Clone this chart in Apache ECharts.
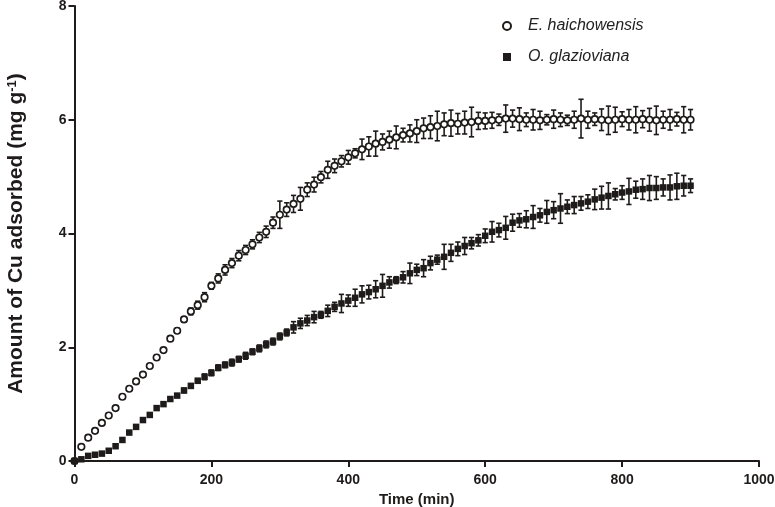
<!DOCTYPE html>
<html>
<head>
<meta charset="utf-8">
<script src="https://cdn.jsdelivr.net/npm/echarts@6/dist/echarts.min.js"></script>
<style>
html,body{margin:0;padding:0;background:#fff;}
#chart{width:775px;height:507px;}
</style>
</head>
<body>
<div id="chart"></div>
<script>
// Time (min)
var timeMin = [0,10,20,30,40,50,60,70,80,90,
  100,110,120,130,140,150,160,170,180,190,
  200,210,220,230,240,250,260,270,280,290,
  300,310,320,330,340,350,360,370,380,390,
  400,410,420,430,440,450,460,470,480,490,
  500,510,520,530,540,550,560,570,580,590,
  600,610,620,630,640,650,660,670,680,690,
  700,710,720,730,740,750,760,770,780,790,
  800,810,820,830,840,850,860,870,880,890,
  900];

// E. haichowensis: mean and error
var haiMean = [0,0.25,0.41,0.53,0.67,0.80,0.93,1.13,1.27,1.40,
  1.52,1.67,1.82,1.95,2.15,2.29,2.49,2.63,2.74,2.88,
  3.08,3.21,3.36,3.48,3.61,3.71,3.81,3.93,4.03,4.19,
  4.33,4.42,4.52,4.61,4.77,4.86,4.99,5.12,5.19,5.27,
  5.34,5.41,5.48,5.53,5.58,5.61,5.65,5.69,5.73,5.76,
  5.80,5.85,5.87,5.89,5.92,5.94,5.93,5.95,5.96,5.98,
  5.98,5.99,6.00,6.02,6.02,6.01,6.00,6.00,5.99,6.00,
  6.01,6.00,5.99,6.00,6.02,6.00,6.01,6.00,5.99,6.00,
  6.01,6.00,6.00,6.01,6.00,5.99,6.00,6.00,6.01,6.00,
  6.00];
var haiErr = [0,0.02,0.02,0.02,0.02,0.02,0.03,0.03,0.03,0.03,
  0.03,0.03,0.03,0.04,0.04,0.04,0.04,0.06,0.07,0.08,
  0.06,0.08,0.09,0.08,0.09,0.08,0.08,0.09,0.10,0.10,
  0.24,0.12,0.15,0.20,0.12,0.13,0.10,0.15,0.12,0.10,
  0.12,0.08,0.18,0.17,0.22,0.14,0.15,0.20,0.12,0.15,
  0.20,0.18,0.20,0.26,0.20,0.23,0.18,0.20,0.26,0.15,
  0.14,0.14,0.10,0.24,0.15,0.20,0.12,0.18,0.16,0.09,
  0.16,0.12,0.09,0.15,0.34,0.15,0.11,0.19,0.25,0.22,
  0.13,0.18,0.23,0.15,0.20,0.25,0.15,0.18,0.12,0.23,
  0.18];

// O. glazioviana: mean and error
var glaMean = [0,0.03,0.09,0.11,0.13,0.18,0.26,0.37,0.50,0.60,
  0.72,0.81,0.93,1.00,1.09,1.15,1.24,1.32,1.41,1.48,
  1.55,1.64,1.69,1.73,1.79,1.85,1.92,1.98,2.05,2.10,
  2.19,2.26,2.35,2.42,2.47,2.53,2.57,2.64,2.71,2.77,
  2.82,2.87,2.93,2.97,3.02,3.08,3.14,3.18,3.23,3.30,
  3.36,3.39,3.48,3.54,3.59,3.66,3.73,3.78,3.83,3.88,
  3.96,4.03,4.06,4.10,4.19,4.23,4.25,4.29,4.32,4.38,
  4.41,4.44,4.47,4.50,4.53,4.56,4.60,4.63,4.66,4.69,
  4.72,4.74,4.77,4.78,4.80,4.80,4.81,4.81,4.83,4.84,
  4.84];
var glaErr = [0,0.01,0.01,0.01,0.01,0.02,0.03,0.03,0.03,0.03,
  0.03,0.03,0.03,0.03,0.03,0.03,0.04,0.04,0.04,0.05,
  0.05,0.05,0.05,0.06,0.05,0.06,0.05,0.06,0.06,0.06,
  0.06,0.06,0.10,0.09,0.09,0.10,0.06,0.10,0.08,0.16,
  0.10,0.15,0.15,0.12,0.15,0.20,0.10,0.06,0.10,0.18,
  0.10,0.15,0.12,0.08,0.22,0.15,0.12,0.15,0.10,0.10,
  0.12,0.18,0.12,0.20,0.15,0.12,0.15,0.20,0.12,0.20,
  0.15,0.26,0.12,0.15,0.12,0.12,0.18,0.20,0.23,0.10,
  0.12,0.23,0.15,0.18,0.22,0.20,0.15,0.22,0.23,0.18,
  0.12];

var seriesNames = ['E. haichowensis', 'O. glazioviana'];
var xTicks = [0, 200, 400, 600, 800, 1000];
var yTicks = [0, 2, 4, 6, 8];

var FONT = '"Liberation Sans", Arial, Helvetica, sans-serif';
var INK = '#1e1b1a';

function pts(m) { return timeMin.map(function (t, i) { return [t, m[i]]; }); }
function errPts(m, e) { return timeMin.map(function (t, i) { return [t, m[i], e[i]]; }); }

function errRender(params, api) {
  var x = api.value(0), y = api.value(1), e = api.value(2);
  var hi = api.coord([x, y + e]);
  var lo = api.coord([x, y - e]);
  var cap = 2.6;
  var st = { stroke: INK, lineWidth: 1.6 };
  return {
    type: 'group',
    children: [
      { type: 'line', shape: { x1: hi[0], y1: hi[1], x2: lo[0], y2: lo[1] }, style: st },
      { type: 'line', shape: { x1: hi[0] - cap, y1: hi[1], x2: hi[0] + cap, y2: hi[1] }, style: st },
      { type: 'line', shape: { x1: lo[0] - cap, y1: lo[1], x2: lo[0] + cap, y2: lo[1] }, style: st }
    ]
  };
}

var chart = echarts.init(document.getElementById('chart'), null, { renderer: 'canvas' });
chart.setOption({
  animation: false,
  backgroundColor: '#ffffff',
  grid: { left: 74.5, right: 16, top: 6, bottom: 46, containLabel: false, outerBoundsMode: 'none' },
  legend: {
    orient: 'vertical',
    left: 497,
    top: 13,
    itemWidth: 8,
    itemHeight: 8,
    itemGap: 15,
    data: seriesNames,
    textStyle: { fontFamily: FONT, fontSize: 16, fontStyle: 'italic', color: '#222', padding: [0, 0, 0, 12] }
  },
  xAxis: {
    type: 'value',
    min: xTicks[0], max: xTicks[xTicks.length - 1], interval: 200,
    name: 'Time (min)',
    nameLocation: 'middle',
    nameGap: 31,
    nameTextStyle: { fontFamily: FONT, fontSize: 15, fontWeight: 'bold', color: INK },
    axisLine: { onZero: false, lineStyle: { color: INK, width: 2 } },
    axisTick: { show: true, length: 6, lineStyle: { color: INK, width: 2 } },
    axisLabel: { fontFamily: FONT, fontSize: 14, fontWeight: 'bold', color: INK, margin: 12,
      formatter: function (v) { return String(v); } },
    splitLine: { show: false }
  },
  yAxis: {
    type: 'value',
    min: yTicks[0], max: yTicks[yTicks.length - 1], interval: 2,
    name: 'Amount of Cu adsorbed (mg g{sup|-1})',
    nameLocation: 'middle',
    nameRotate: 90,
    nameGap: 47,
    nameTextStyle: {
      fontFamily: FONT, fontSize: 21, fontWeight: 'bold', color: INK,
      rich: { sup: { fontFamily: FONT, fontSize: 13, fontWeight: 'bold', color: INK, verticalAlign: 'top', padding: [0, 0, 9, 0] } }
    },
    axisLine: { onZero: false, lineStyle: { color: INK, width: 2 } },
    axisTick: { show: true, length: 6, lineStyle: { color: INK, width: 2 } },
    axisLabel: { fontFamily: FONT, fontSize: 14, fontWeight: 'bold', color: INK, margin: 8,
      formatter: function (v) { return String(v); } },
    splitLine: { show: false }
  },
  series: [
    {
      name: seriesNames[1] + ' err', type: 'custom', renderItem: errRender,
      data: errPts(glaMean, glaErr), z: 2, clip: false, silent: true
    },
    {
      name: seriesNames[0] + ' err', type: 'custom', renderItem: errRender,
      data: errPts(haiMean, haiErr), z: 2, clip: false, silent: true
    },
    {
      name: seriesNames[0], type: 'scatter', symbol: 'circle', symbolSize: 6.5,
      data: pts(haiMean), z: 3, clip: false,
      itemStyle: { color: '#ffffff', borderColor: INK, borderWidth: 1.7, opacity: 1 }
    },
    {
      name: seriesNames[1], type: 'scatter', symbol: 'rect', symbolSize: 6.5,
      data: pts(glaMean), z: 4, clip: false,
      itemStyle: { color: INK, borderWidth: 0, opacity: 1 }
    }
  ]
});
</script>
</body>
</html>
